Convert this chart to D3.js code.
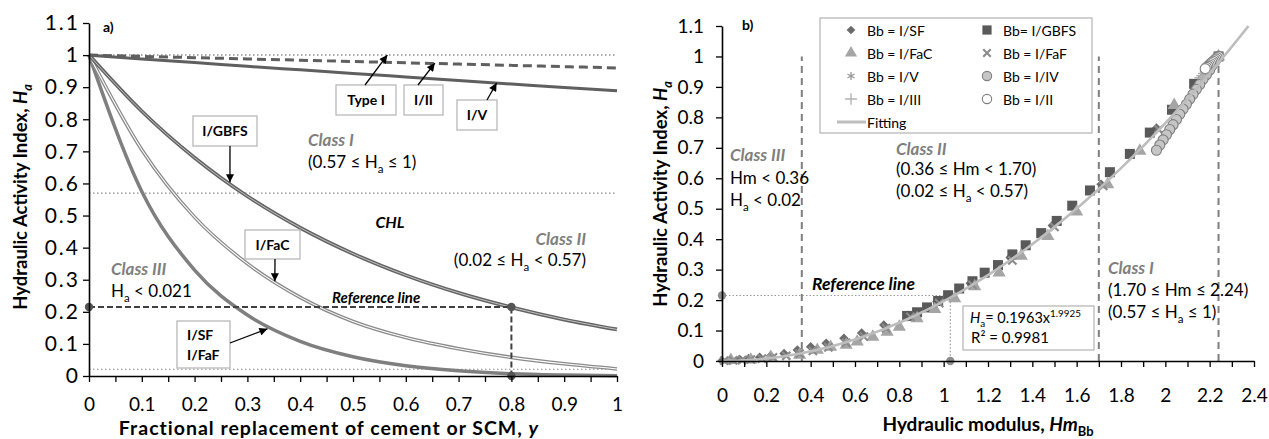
<!DOCTYPE html>
<html>
<head>
<meta charset="utf-8">
<script src="https://cdn.jsdelivr.net/npm/d3@7"></script>
<style>
body { margin: 0; background: #fff; }
svg { display: block; font-family: Lato, "Open Sans", sans-serif; }
</style>
</head>
<body>
<div id="chart"></div>
<script>
// ---------- panel a) : H_a against fractional replacement y ----------
var yRepl   = [0, 0.1, 0.2, 0.3, 0.4, 0.5, 0.6, 0.7, 0.8, 0.9, 1];
var haTypeI = [1, 1, 1, 1, 1, 1, 1, 1, 1, 1, 1];
var haII    = [1, 0.996, 0.992, 0.988, 0.984, 0.980, 0.976, 0.972, 0.968, 0.964, 0.960];
var haV     = [1, 0.988, 0.977, 0.965, 0.954, 0.943, 0.932, 0.921, 0.910, 0.899, 0.889];
var haGBFS  = [1, 0.825, 0.680, 0.560, 0.462, 0.381, 0.314, 0.259, 0.214, 0.176, 0.145];
var haFaC   = [1, 0.705, 0.495, 0.350, 0.245, 0.170, 0.120, 0.085, 0.058, 0.038, 0.022];
var haSF    = [1, 0.575, 0.330, 0.190, 0.108, 0.060, 0.032, 0.016, 0.007, 0.003, 0.001];
var classLinesA = [0.57, 0.021];
var refA = {y: 0.8, ha: 0.215};
var xTicksA = [0, 0.1, 0.2, 0.3, 0.4, 0.5, 0.6, 0.7, 0.8, 0.9, 1];
var yTicks  = [0, 0.1, 0.2, 0.3, 0.4, 0.5, 0.6, 0.7, 0.8, 0.9, 1, 1.1];

// ---------- panel b) : H_a against hydraulic modulus Hm ----------
var bbSF = [[2.24,1],[1.96,0.765],[1.71,0.58],[1.49,0.445],[1.30,0.34],[1.12,0.255],[0.97,0.195],
    [0.84,0.15],[0.73,0.118],[0.63,0.092],[0.55,0.075],[0.47,0.058],[0.40,0.047],[0.34,0.036],
    [0.28,0.025],[0.22,0.017],[0.17,0.012],[0.12,0.008],[0.08,0.005],[0.04,0.003],[0,0.001]];
var bbGBFS = [[2.24,1],[2.13,0.91],[2.03,0.825],[1.93,0.75],[1.84,0.68],[1.75,0.62],[1.66,0.56],
    [1.58,0.51],[1.51,0.46],[1.44,0.42],[1.37,0.38],[1.31,0.35],[1.245,0.315],[1.185,0.29],
    [1.13,0.262],[1.07,0.238],[1.02,0.216],[0.975,0.197],[0.925,0.176],[0.88,0.16],[0.835,0.148]];
var bbFaC = [[2.24,1],[2.04,0.84],[1.885,0.69],[1.74,0.58],[1.60,0.49],[1.47,0.41],[1.35,0.345],
    [1.25,0.29],[1.14,0.245],[1.05,0.205],[0.96,0.17],[0.88,0.14],[0.80,0.112],[0.745,0.095],
    [0.68,0.079],[0.61,0.063],[0.56,0.053],[0.49,0.046],[0.43,0.036],[0.35,0.02],[0.22,0.013],
    [0.13,0.004],[0.04,0.003]];
var bbFaF = [[2.24,1],[1.97,0.76],[1.72,0.575],[1.50,0.44],[1.31,0.33],[1.13,0.25],[0.98,0.19],
    [0.85,0.145],[0.74,0.108],[0.64,0.08],[0.56,0.06],[0.48,0.045],[0.41,0.033],[0.35,0.024],
    [0.29,0.017],[0.23,0.012],[0.18,0.008],[0.13,0.005],[0.09,0.003],[0.05,0.002],[0.01,0.001]];
var bbV = [[2.24,1],[2.23,0.988],[2.22,0.976],[2.21,0.965],[2.20,0.953],[2.19,0.942],[2.18,0.931],
    [2.165,0.92],[2.155,0.91],[2.145,0.899],[2.135,0.889]];
var bbIV = [[2.24,1],[2.225,0.985],[2.21,0.97],[2.20,0.955],[2.185,0.94],[2.17,0.925],[2.155,0.908],
    [2.14,0.892],[2.125,0.876],[2.11,0.86],[2.095,0.843],[2.08,0.827],[2.065,0.81],[2.05,0.793],
    [2.035,0.776],[2.02,0.76],[2.005,0.743],[1.99,0.726],[1.975,0.709],[1.96,0.692]];
var bbIII = [[2.24,1],[2.232,0.993],[2.224,0.986],[2.216,0.979],[2.208,0.972],[2.20,0.965],
    [2.192,0.958],[2.184,0.951],[2.176,0.944],[2.168,0.937],[2.16,0.93]];
var bbII = [[2.24,1],[2.234,0.996],[2.228,0.992],[2.222,0.988],[2.216,0.984],[2.21,0.98],
    [2.204,0.976],[2.198,0.972],[2.192,0.968],[2.186,0.964],[2.18,0.96]];
var fitCoef = [0.1963, 1.9925];
var classLinesB = [0.36, 1.70, 2.24];
var refB = {hm: 1.03, ha: 0.215};
var xTicksB = [0, 0.2, 0.4, 0.6, 0.8, 1, 1.2, 1.4, 1.6, 1.8, 2, 2.2, 2.4];

var W = 1269, H = 439;
var svg = d3.select("#chart").append("svg").attr("width", W).attr("height", H);
svg.append("rect").attr("width", W).attr("height", H).attr("fill", "#fff");

var defs = svg.append("defs");
defs.append("marker").attr("id", "arr")
    .attr("viewBox", "0 0 10 10").attr("refX", 10).attr("refY", 5)
    .attr("markerWidth", 9).attr("markerHeight", 8)
    .attr("markerUnits", "userSpaceOnUse").attr("orient", "auto")
    .append("path").attr("d", "M0,0L10,5L0,10z").attr("fill", "#000");

var fmt = function(d){ return String(+d.toFixed(2)); };

// text with sub / sup / italic pieces
function richText(g, x, y, parts, o){
    var size = o.size || 16;
    var t = g.append("text").attr("x", x).attr("y", y)
        .attr("font-size", size)
        .attr("text-anchor", o.anchor || "start")
        .attr("fill", o.fill || "#000")
        .attr("font-weight", o.bold ? "bold" : "normal")
        .attr("font-style", o.italic ? "italic" : "normal");
    if (o.spacing) t.attr("letter-spacing", o.spacing);
    if (o.rotate) t.attr("transform", "rotate(-90," + x + "," + y + ")");
    var shift = 0;
    parts.forEach(function(p){
        var s = t.append("tspan"), target = 0, txt = p;
        if (typeof p !== "string"){
            if (p.sub){ target = size * 0.28; txt = p.sub; s.attr("font-size", size * 0.68); }
            else if (p.sup){ target = -size * 0.38; txt = p.sup; s.attr("font-size", size * 0.68); }
            else { txt = p.t; }
            if (p.i) s.attr("font-style", "italic");
        }
        if (target !== shift){ s.attr("dy", target - shift); shift = target; }
        s.text(txt);
    });
    return t;
}

function styleAxis(g, size, spacing){
    g.select(".domain").attr("stroke", "#000").attr("stroke-width", 1.6);
    g.selectAll(".tick line").attr("stroke", "#000").attr("stroke-width", 1.3);
    g.selectAll("text").attr("font-size", size).attr("fill", "#000")
        .attr("font-family", "Lato, 'Open Sans', sans-serif")
        .attr("letter-spacing", spacing || 0);
}

function labelBox(g, x, y, w, h, lines, tx, ty){
    g.append("rect").attr("x", x).attr("y", y).attr("width", w).attr("height", h)
        .attr("fill", "#fff").attr("stroke", "#b8b8b8").attr("stroke-width", 1.3);
    lines.forEach(function(s, i){
        g.append("text").attr("x", tx).attr("y", ty + i * 20)
            .attr("text-anchor", lines.length > 1 ? "start" : "middle")
            .attr("font-size", 14).attr("font-weight", "bold").text(s);
    });
}

function arrow(g, x1, y1, x2, y2){
    g.append("line").attr("x1", x1).attr("y1", y1).attr("x2", x2).attr("y2", y2)
        .attr("stroke", "#000").attr("stroke-width", 1.3).attr("marker-end", "url(#arr)");
}

// ================= panel a =================
var xL = d3.scaleLinear().domain([0, 1]).range([89, 617]);
var yL = d3.scaleLinear().domain([0, 1.1]).range([376, 23]);
var gA = svg.append("g");

// class boundary lines
classLinesA.forEach(function(v){
    gA.append("line").attr("x1", xL(0)).attr("x2", xL(1)).attr("y1", yL(v)).attr("y2", yL(v))
        .attr("stroke", "#8c8c8c").attr("stroke-width", 1.2).attr("stroke-dasharray", "1.5,2.5");
});

var lineA = function(vals){
    return d3.line().x(function(d, i){ return xL(yRepl[i]); })
        .y(function(d){ return yL(d); }).curve(d3.curveMonotoneX)(vals);
};

// I/SF, I/FaF
gA.append("path").attr("d", lineA(haSF)).attr("fill", "none")
    .attr("stroke", "#7f7f7f").attr("stroke-width", 3.5);
// I/FaC (double line)
gA.append("path").attr("d", lineA(haFaC)).attr("fill", "none")
    .attr("stroke", "#8a8a8a").attr("stroke-width", 3.6);
gA.append("path").attr("d", lineA(haFaC)).attr("fill", "none")
    .attr("stroke", "#fff").attr("stroke-width", 1.1);
// I/GBFS (double line)
gA.append("path").attr("d", lineA(haGBFS)).attr("fill", "none")
    .attr("stroke", "#646464").attr("stroke-width", 3.8);
gA.append("path").attr("d", lineA(haGBFS)).attr("fill", "none")
    .attr("stroke", "#d8d8d8").attr("stroke-width", 0.8);
// Type I, I/II, I/V
gA.append("path").attr("d", lineA(haTypeI)).attr("fill", "none")
    .attr("stroke", "#8c8c8c").attr("stroke-width", 1.5).attr("stroke-dasharray", "1.5,2.5");
gA.append("path").attr("d", lineA(haII)).attr("fill", "none")
    .attr("stroke", "#5f5f5f").attr("stroke-width", 3).attr("stroke-dasharray", "9,5");
gA.append("path").attr("d", lineA(haV)).attr("fill", "none")
    .attr("stroke", "#5f5f5f").attr("stroke-width", 3);

// reference line
gA.append("path")
    .attr("d", d3.line()([[xL(0), yL(refA.ha)], [xL(refA.y), yL(refA.ha)], [xL(refA.y), yL(0)]]))
    .attr("fill", "none").attr("stroke", "#404040").attr("stroke-width", 2)
    .attr("stroke-dasharray", "6,3");
gA.selectAll("circle.ref").data([[0, refA.ha], [refA.y, refA.ha], [refA.y, 0]]).enter()
    .append("circle").attr("class", "ref")
    .attr("cx", function(d){ return xL(d[0]); }).attr("cy", function(d){ return yL(d[1]); })
    .attr("r", 4.2).attr("fill", "#555");

// axes
var axXA = gA.append("g").attr("transform", "translate(0," + yL(0) + ")")
    .call(d3.axisBottom(xL).tickValues(d3.range(0, 1.001, 0.05)).tickSize(6)
        .tickSizeOuter(0).tickFormat(""));
styleAxis(axXA, 19);
var labXA = gA.append("g").attr("transform", "translate(0," + yL(0) + ")")
    .call(d3.axisBottom(xL).tickValues(xTicksA).tickSize(0).tickPadding(22).tickFormat(fmt));
labXA.select(".domain").remove();
styleAxis(labXA, 19);
var axYA = gA.append("g").attr("transform", "translate(" + xL(0) + ",0)")
    .call(d3.axisLeft(yL).tickValues(yTicks).tickSize(6).tickSizeOuter(0)
        .tickPadding(3).tickFormat(fmt));
styleAxis(axYA, 21, 2);

// titles
richText(gA, 329, 435, ["Fractional replacement of cement or SCM, ", {t: "y", i: true}],
    {size: 19.5, bold: true, anchor: "middle", spacing: 1});
richText(gA, 27, 197, ["Hydraulic Activity Index, ", {t: "H", i: true}, {sub: "a", i: true}],
    {size: 18.5, bold: true, anchor: "middle", rotate: true});
richText(gA, 103, 32, ["a)"], {size: 14, bold: true});

// class annotations
richText(gA, 308, 146, ["Class I"], {size: 17, bold: true, italic: true, fill: "#7f7f7f"});
richText(gA, 308, 168, ["(0.57 ≤ H", {sub: "a"}, " ≤ 1)"], {size: 17});
richText(gA, 390, 228, ["CHL"], {size: 16, bold: true, italic: true, anchor: "middle"});
richText(gA, 586, 245, ["Class II"], {size: 17, bold: true, italic: true, fill: "#7f7f7f", anchor: "end"});
richText(gA, 586, 266, ["(0.02 ≤ H", {sub: "a"}, " < 0.57)"], {size: 17, anchor: "end"});
richText(gA, 111, 275, ["Class III"], {size: 17, bold: true, italic: true, fill: "#7f7f7f"});
richText(gA, 111, 297, ["H", {sub: "a"}, " < 0.021"], {size: 17});
richText(gA, 332, 303, ["Reference line"], {size: 15, bold: true, italic: true});

// labelled boxes with arrows
labelBox(gA, 193, 116, 64, 30, ["I/GBFS"], 225, 136);
arrow(gA, 230, 146, xL(0.267), yL(0.604));
labelBox(gA, 336, 85, 60, 30, ["Type I"], 366, 105);
arrow(gA, 365, 85, xL(0.565), yL(1.0));
labelBox(gA, 404, 85, 39, 30, ["I/II"], 423.5, 105);
arrow(gA, 418, 85, xL(0.655), yL(0.975));
labelBox(gA, 457, 100, 40, 30, ["I/V"], 477, 120);
arrow(gA, 487, 100, xL(0.772), yL(0.913));
labelBox(gA, 245, 230, 55, 29, ["I/FaC"], 272.5, 250);
arrow(gA, 275, 259, xL(0.352), yL(0.295));
labelBox(gA, 177, 321, 53, 47, ["I/SF", "I/FaF"], 187, 340);
arrow(gA, 230, 343, xL(0.338), yL(0.147));

// ================= panel b =================
var xR = d3.scaleLinear().domain([0, 2.4]).range([722, 1254]);
var yR = d3.scaleLinear().domain([0, 1.1]).range([361, 26]);
var gB = svg.append("g");

// class boundaries
classLinesB.forEach(function(v){
    gB.append("line").attr("x1", xR(v)).attr("x2", xR(v)).attr("y1", yR(0)).attr("y2", yR(1))
        .attr("stroke", "#7f7f7f").attr("stroke-width", 2).attr("stroke-dasharray", "7,5");
});

// reference dotted line
gB.append("path")
    .attr("d", d3.line()([[xR(0), yR(refB.ha)], [xR(refB.hm), yR(refB.ha)], [xR(refB.hm), yR(0)]]))
    .attr("fill", "none").attr("stroke", "#9a9a9a").attr("stroke-width", 1.2)
    .attr("stroke-dasharray", "1.5,2");
gB.selectAll("circle.ref").data([[0, refB.ha], [refB.hm, 0]]).enter()
    .append("circle").attr("class", "ref")
    .attr("cx", function(d){ return xR(d[0]); }).attr("cy", function(d){ return yR(d[1]); })
    .attr("r", 4.2).attr("fill", "#8c8c8c");

var symTimes = d3.symbolTimes || d3.symbolX || d3.symbolCross;
var symAst = d3.symbolAsterisk || d3.symbolCross;
var symPlus = d3.symbolPlus || d3.symbolCross;

var series = [
    {name: "Bb = I/SF",   data: bbSF,   sym: d3.symbolSquare, size: 45, rot: 45, fill: "#6b6b6b", stroke: "none"},
    {name: "Bb= I/GBFS",  data: bbGBFS, sym: d3.symbolSquare, size: 100, rot: 0, fill: "#595959", stroke: "none"},
    {name: "Bb = I/FaC",  data: bbFaC,  sym: d3.symbolTriangle, size: 75, rot: 0, fill: "#a5a5a5", stroke: "none"},
    {name: "Bb = I/FaF",  data: bbFaF,  sym: symTimes, size: 45, rot: 0, fill: "none", stroke: "#8c8c8c", sw: 2.2},
    {name: "Bb = I/V",    data: bbV,    sym: symAst,   size: 55, rot: 0, fill: "none", stroke: "#9a9a9a", sw: 1.3},
    {name: "Bb = I/IV",   data: bbIV,   sym: d3.symbolCircle, size: 80, rot: 0, fill: "#c6c6c6", stroke: "#7f7f7f", sw: 1.1},
    {name: "Bb = I/III",  data: bbIII,  sym: symPlus,  size: 55, rot: 0, fill: "none", stroke: "#b0b0b0", sw: 1.3},
    {name: "Bb = I/II",   data: bbII,   sym: d3.symbolCircle, size: 80, rot: 0, fill: "#fff", stroke: "#7f7f7f", sw: 1.1}
];

series.forEach(function(s){
    gB.append("g").selectAll("path").data(s.data).enter().append("path")
        .attr("d", d3.symbol().type(s.sym).size(s.size))
        .attr("transform", function(d){
            return "translate(" + xR(d[0]) + "," + yR(d[1]) + ") rotate(" + s.rot + ")";
        })
        .attr("fill", s.fill).attr("stroke", s.stroke).attr("stroke-width", s.sw || 0);
});

// fitted power law as printed in the chart
var fitEnd = Math.pow(1.1 / fitCoef[0], 1 / fitCoef[1]);
var fitPts = d3.range(0, fitEnd, 0.02).concat([fitEnd]).map(function(x){
    return [x, fitCoef[0] * Math.pow(x, fitCoef[1])];
});
gB.append("path")
    .attr("d", d3.line().x(function(d){ return xR(d[0]); }).y(function(d){ return yR(d[1]); })(fitPts))
    .attr("fill", "none").attr("stroke", "#bdbdbd").attr("stroke-width", 2.6);

// axes
var axXB = gB.append("g").attr("transform", "translate(0," + yR(0) + ")")
    .call(d3.axisBottom(xR).tickValues(d3.range(0, 2.401, 0.1)).tickSize(6)
        .tickSizeOuter(0).tickFormat(""));
styleAxis(axXB, 19);
var labXB = gB.append("g").attr("transform", "translate(0," + yR(0) + ")")
    .call(d3.axisBottom(xR).tickValues(xTicksB).tickSize(0).tickPadding(28).tickFormat(fmt));
labXB.select(".domain").remove();
styleAxis(labXB, 19);
var axYB = gB.append("g").attr("transform", "translate(" + xR(0) + ",0)")
    .call(d3.axisLeft(yR).tickValues(yTicks).tickSize(6).tickSizeOuter(0)
        .tickPadding(12).tickFormat(fmt));
styleAxis(axYB, 19);

// titles
richText(gB, 988, 431, ["Hydraulic modulus, ", {t: "Hm", i: true}, {sub: "Bb"}],
    {size: 19, bold: true, anchor: "middle"});
richText(gB, 667, 194, ["Hydraulic Activity Index, ", {t: "H", i: true}, {sub: "a", i: true}],
    {size: 18.5, bold: true, anchor: "middle", rotate: true});
richText(gB, 742, 30, ["b)"], {size: 14, bold: true});

// class annotations
richText(gB, 730, 161, ["Class III"], {size: 17, bold: true, italic: true, fill: "#7f7f7f"});
richText(gB, 730, 184, ["Hm < 0.36"], {size: 17});
richText(gB, 730, 206, ["H", {sub: "a"}, " < 0.02"], {size: 17});
richText(gB, 896, 155, ["Class II"], {size: 17, bold: true, italic: true, fill: "#7f7f7f"});
richText(gB, 896, 175, ["(0.36 ≤ Hm < 1.70)"], {size: 17});
richText(gB, 896, 197, ["(0.02 ≤ H", {sub: "a"}, " < 0.57)"], {size: 17});
richText(gB, 1108, 274, ["Class I"], {size: 17, bold: true, italic: true, fill: "#7f7f7f"});
richText(gB, 1108, 296, ["(1.70 ≤ Hm ≤ 2.24)"], {size: 17});
richText(gB, 1108, 318, ["(0.57 ≤ H", {sub: "a"}, " ≤ 1)"], {size: 17});
richText(gB, 812, 290, ["Reference line"], {size: 17.5, bold: true, italic: true});

// equation box
gB.append("rect").attr("x", 963).attr("y", 306).attr("width", 131).attr("height", 44)
    .attr("fill", "#fff").attr("stroke", "#b8b8b8").attr("stroke-width", 1.3);
richText(gB, 970, 323, [{t: "H", i: true}, {sub: "a"}, "= 0.1963x", {sup: "1.9925"}], {size: 14.5});
richText(gB, 971, 343, ["R² = 0.9981"], {size: 15});

// legend
var lg = gB.append("g");
lg.append("rect").attr("x", 820).attr("y", 18).attr("width", 272).attr("height", 115)
    .attr("fill", "#fff").attr("stroke", "#b8b8b8").attr("stroke-width", 1.3);
var legendPos = [[0, 0], [1, 0], [0, 1], [1, 1], [0, 2], [1, 2], [0, 3], [1, 3]];
series.forEach(function(s, i){
    var cx = legendPos[i][0] ? 987 : 851, cy = 30 + legendPos[i][1] * 23;
    lg.append("path").attr("d", d3.symbol().type(s.sym).size(s.size * 0.85))
        .attr("transform", "translate(" + cx + "," + cy + ") rotate(" + s.rot + ")")
        .attr("fill", s.fill).attr("stroke", s.stroke).attr("stroke-width", s.sw || 0);
    lg.append("text").attr("x", cx + 16).attr("y", cy + 5.5).attr("font-size", 14).text(s.name);
});
lg.append("line").attr("x1", 837).attr("x2", 866).attr("y1", 122).attr("y2", 122)
    .attr("stroke", "#bdbdbd").attr("stroke-width", 3);
lg.append("text").attr("x", 867).attr("y", 127.5).attr("font-size", 14).text("Fitting");
</script>
</body>
</html>
